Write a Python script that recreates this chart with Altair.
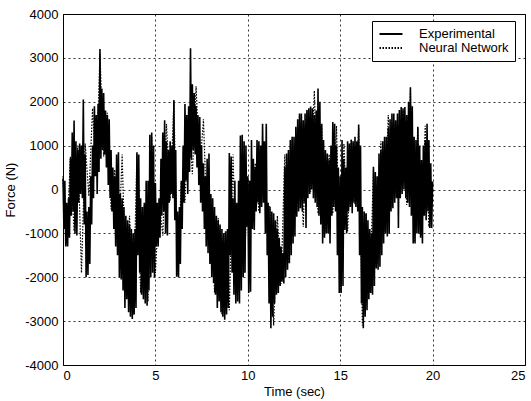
import altair as alt
import pandas as pd

# Experimental signal: upper / lower swing of each 0.1 s slot (N)
exp_hi = [
    250, 200, -300, -200, 700, 1300, 1570, 1100, 900, 1050,
    1000, 2050, 800, -500, -400, 300, 1000, 1900, 1700, 1950,
    3200, 2300, 2200, 1800, 1700, 1600, 900, 500, 300, 800,
    850, -100, -200, -400, -600, -700, -800, -900, -1000, -900,
    850, 800, -200, -400, -300, 200, 200, 1250, 1300, 1000,
    150, -300, -200, 700, 1300, 1580, 1100, 900, 1100, 1000,
    2040, 900, -500, -400, 200, 1000, 1950, 1700, 1900, 3220,
    2400, 2200, 1900, 1700, 1650, 1000, 600, 300, 700, 820,
    -100, -200, -400, -600, -700, -800, -900, -1000, -950, -900,
    830, 750, -200, 200, -300, 200, 1230, 1250, 1100, 1000,
    300, 200, 1130, 700, 520, 1130, 1100, 1000, 1500, 1100,
    1500, -300, -400, -500, -540, -700, -900, -1100, -1300, -1450,
    520, 820, 900, 1130, 1200, 1200, 1430, 1600, 1730, 1730,
    1580, 1730, 1810, 1850, 1890, 1850, 1700, 1800, 2300, 2000,
    1500, 1130, 900, 820, 670, 1000, 1540, 1500, 1000, 500,
    300, 1130, 700, 500, 1100, 1050, 1130, 1100, 1200, 1100,
    1480, 1000, -400, -500, -540, -700, -900, -1000, 520, 400,
    300, 820, 900, 1100, 1200, 1200, 1400, 1600, 1730, 1730,
    1580, 1730, 1810, 1880, 1850, 1880, 1700, 2000, 2330, 1900,
    1200, 1130, 1430, 1000, 670, 1000, 1130, 1500, 1130, 600,
]
exp_lo = [
    -900, -1300, -1300, -1100, -600, -500, -1000, -1050, -300, -100,
    -200, -800, -2000, -1950, -1700, -800, -200, 300, -100, 400,
    700, 900, 800, 500, 100, -200, -500, -900, -1300, -1500,
    -2000, -2050, -2300, -2700, -2500, -2800, -2900, -2950, -2850, -2700,
    -1500, -1900, -2400, -2500, -2600, -2650, -2300, -2000, -1900, -2000,
    -1300, -1300, -1100, -600, -500, -1000, -1050, -300, -100, -200,
    -700, -1990, -2000, -1700, -900, -300, 200, -100, 400, 700,
    900, 800, 500, 100, -300, -500, -900, -1300, -1450, -1700,
    -2000, -2130, -2400, -2700, -2550, -2800, -2900, -2970, -2850, -2700,
    -1500, -1900, -2400, -2600, -2550, -2600, -2300, -2000, -1900, -850,
    -2360, -2330, -900, -920, -500, -300, -540, -400, -300, -1000,
    -1500, -2600, -3160, -2900, -2600, -2400, -2360, -2200, -2100, -2140,
    -2000, -1830, -1680, -1500, -1230, -1070, -620, -500, -430, -500,
    -300, -880, -200, -100, 0, -200, -300, -400, -600, -800,
    -1230, -1100, -1000, -1000, -1230, -600, -400, -500, -1500, -2360,
    -2360, -2200, -920, -1000, -500, -400, -540, -300, -400, -500,
    -1500, -2600, -3160, -2900, -2750, -2500, -2360, -2400, -2200, -1800,
    -1830, -1760, -1500, -1230, -1000, -1070, -1000, -500, -430, -300,
    -200, -880, -200, -100, 0, -200, -300, -400, -600, -1230,
    -1230, -1000, -1000, -1100, -1230, -600, -700, -500, -880, -880,
]
exp_end = 180

# Neural Network prediction, one value every 0.2 s (N)
nn_vals = [
    300, -1250, 750, -950, 1000, -1900, 1050, -150, 1850, 350,
    3100, 750, 1750, -450, 450, -1450, 800, -2250, -600, -2850,
    800, -2350, -350, -2550, 1200, -1900, -250, -1050, 1500, -250,
    2000, -1950, 150, -300, 1800, 350, 2350, 450, 1600, -850,
    -150, -2350, -650, -2850, -1000, -2750, 800, -2350, 250, -1900,
    250, -850, 600, -500, 1050, -350, -400, -3100, -600, -2150,
    800, -1650, 1150, -550, 1700, -850, 1800, -50, 2250, -550,
    1450, -950, 800, -550, 1450, -2300, 1050, -950, 1150, -350,
    1400, -3100, -550, -2350, 450, -1700, 1100, -950, 1700, -400,
    1550, -150, 1800, -350, 2250, -1200, 1400, -1050, 1450, -850,
]
nn_end = 150

series_names = ["Experimental", "Neural Network"]
x_ticks = [0, 5, 10, 15, 20, 25]
y_ticks = [-4000, -3000, -2000, -1000, 0, 1000, 2000, 3000, 4000]

rows = []
for i, (h, l) in enumerate(zip(exp_hi, exp_lo)):
    t = i / 10
    rows.append({"t": t, "v": h, "s": series_names[0]})
    rows.append({"t": t + 0.05, "v": l, "s": series_names[0]})
rows.append({"t": 20.0, "v": exp_end, "s": series_names[0]})
for i, v in enumerate(nn_vals):
    rows.append({"t": i / 5, "v": v, "s": series_names[1]})
rows.append({"t": 20.0, "v": nn_end, "s": series_names[1]})
df = pd.DataFrame(rows)

FONT = "Liberation Sans"

dash = alt.StrokeDash(
    "s:N",
    scale=alt.Scale(domain=series_names, range=[[1, 0], [1.5, 1.5]]),
    legend=alt.Legend(
        title=None,
        orient="none",
        legendX=309,
        legendY=7,
        fillColor="white",
        strokeColor="black",
        padding=6,
        symbolType="M-2,0H2",
        symbolStrokeColor="black",
        symbolStrokeWidth=1.8,
        symbolSize=132,
        symbolOffset=6,
        labelFont=FONT,
        labelFontSize=13,
        labelColor="black",
        labelOffset=21,
        rowPadding=0,
    ),
)

base = alt.Chart(df).encode(
    x=alt.X(
        "t:Q",
        scale=alt.Scale(domain=[0, 25], nice=False, zero=False),
        axis=alt.Axis(values=x_ticks, title="Time (sec)", labelExpr="'' + datum.value"),
    ),
    y=alt.Y(
        "v:Q",
        scale=alt.Scale(domain=[-4000, 4000], nice=False),
        axis=alt.Axis(values=y_ticks, title="Force (N)", labelExpr="'' + datum.value"),
    ),
    strokeDash=dash,
)

nn_layer = base.mark_line(color="black", strokeWidth=1.2).transform_filter(
    alt.datum.s == series_names[1]
)
exp_layer = base.mark_line(color="black", strokeWidth=1.6).transform_filter(
    alt.datum.s == series_names[0]
)

chart = (
    alt.layer(nn_layer, exp_layer)
    .properties(
        width=462,
        height=351,
        autosize=alt.AutoSizeParams(type="none"),
        padding={"left": 63, "top": 14, "right": 6, "bottom": 36},
        background="white",
    )
    .configure_view(stroke="black", strokeWidth=1)
    .configure_axis(
        domain=False,
        ticks=False,
        grid=True,
        gridColor="black",
        gridOpacity=1,
        gridDash=[2, 3],
        gridWidth=0.8,
        labelFont=FONT,
        labelFontSize=13,
        labelColor="black",
        titleFont=FONT,
        titleFontSize=13,
        titleFontWeight="normal",
        titleColor="black",
    )
    .configure_axisX(labelPadding=4, titlePadding=3)
    .configure_axisY(labelPadding=5, titlePadding=7)
)

chart.save("out.html", embed_options={"renderer": "svg", "actions": False})
